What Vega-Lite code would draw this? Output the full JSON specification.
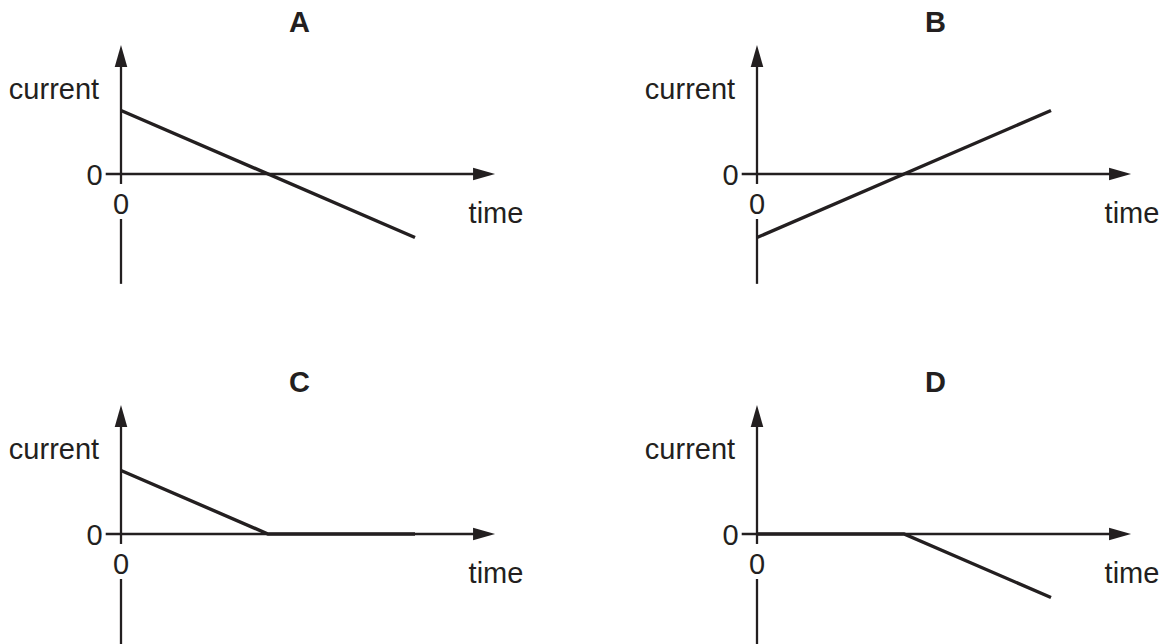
{
  "$schema": "https://vega.github.io/schema/vega-lite/v6.json",
  "padding": 0,
  "background": "white",
  "datasets": {
    "els": [
      {"panel":"A","el":"axis","t":-0.52,"t2":12.35,"i":0,"i2":0},
      {"panel":"A","el":"axis","t":0,"t2":0,"i":-0.157,"i2":1.858},
      {"panel":"A","el":"axis","t":0,"t2":0,"i":-1.73,"i2":-0.709},
      {"panel":"A","el":"arrow","dir":"up","t":0,"i":1.858},
      {"panel":"A","el":"arrow","dir":"right","t":12.35,"i":0},
      {"panel":"A","el":"label","text":"current","t":-2.28,"i":1.189},
      {"panel":"A","el":"label","text":"0","t":-0.9,"i":-0.18},
      {"panel":"A","el":"label","text":"0","t":0,"i":-0.63},
      {"panel":"A","el":"label","text":"time","t":12.755,"i":-0.764},
      {"panel":"A","el":"title","text":"A","t":6.07,"i":2.236},
      {"panel":"A","el":"curve","t":0,"i":1},
      {"panel":"A","el":"curve","t":10,"i":-1},

      {"panel":"B","el":"axis","t":-0.52,"t2":12.35,"i":0,"i2":0},
      {"panel":"B","el":"axis","t":0,"t2":0,"i":-0.157,"i2":1.858},
      {"panel":"B","el":"axis","t":0,"t2":0,"i":-1.73,"i2":-0.709},
      {"panel":"B","el":"arrow","dir":"up","t":0,"i":1.858},
      {"panel":"B","el":"arrow","dir":"right","t":12.35,"i":0},
      {"panel":"B","el":"label","text":"current","t":-2.28,"i":1.189},
      {"panel":"B","el":"label","text":"0","t":-0.9,"i":-0.18},
      {"panel":"B","el":"label","text":"0","t":0,"i":-0.63},
      {"panel":"B","el":"label","text":"time","t":12.755,"i":-0.764},
      {"panel":"B","el":"title","text":"B","t":6.07,"i":2.236},
      {"panel":"B","el":"curve","t":0,"i":-1},
      {"panel":"B","el":"curve","t":10,"i":1},

      {"panel":"C","el":"axis","t":-0.52,"t2":12.35,"i":0,"i2":0},
      {"panel":"C","el":"axis","t":0,"t2":0,"i":-0.157,"i2":1.858},
      {"panel":"C","el":"axis","t":0,"t2":0,"i":-1.748,"i2":-0.709},
      {"panel":"C","el":"arrow","dir":"up","t":0,"i":1.858},
      {"panel":"C","el":"arrow","dir":"right","t":12.35,"i":0},
      {"panel":"C","el":"label","text":"current","t":-2.28,"i":1.189},
      {"panel":"C","el":"label","text":"0","t":-0.9,"i":-0.18},
      {"panel":"C","el":"label","text":"0","t":0,"i":-0.63},
      {"panel":"C","el":"label","text":"time","t":12.755,"i":-0.764},
      {"panel":"C","el":"title","text":"C","t":6.07,"i":2.236},
      {"panel":"C","el":"curve","t":0,"i":1},
      {"panel":"C","el":"curve","t":5,"i":0},
      {"panel":"C","el":"curve","t":10,"i":0},

      {"panel":"D","el":"axis","t":-0.52,"t2":12.35,"i":0,"i2":0},
      {"panel":"D","el":"axis","t":0,"t2":0,"i":-0.157,"i2":1.858},
      {"panel":"D","el":"axis","t":0,"t2":0,"i":-1.748,"i2":-0.709},
      {"panel":"D","el":"arrow","dir":"up","t":0,"i":1.858},
      {"panel":"D","el":"arrow","dir":"right","t":12.35,"i":0},
      {"panel":"D","el":"label","text":"current","t":-2.28,"i":1.189},
      {"panel":"D","el":"label","text":"0","t":-0.9,"i":-0.18},
      {"panel":"D","el":"label","text":"0","t":0,"i":-0.63},
      {"panel":"D","el":"label","text":"time","t":12.755,"i":-0.764},
      {"panel":"D","el":"title","text":"D","t":6.07,"i":2.236},
      {"panel":"D","el":"curve","t":0,"i":0},
      {"panel":"D","el":"curve","t":5,"i":0},
      {"panel":"D","el":"curve","t":10,"i":-1}
    ]
  },
  "data": {"name": "els"},
  "spacing": 74,
  "vconcat": [
    {
      "spacing": 104,
      "hconcat": [
        {
          "width": 532, "height": 285,
          "transform": [{"filter": "datum.panel === 'A'"}],
          "encoding": {
            "x": {"field": "t", "type": "quantitative", "axis": null, "scale": {"domain": [-4.1156, 13.9796], "nice": false, "zero": false}},
            "y": {"field": "i", "type": "quantitative", "axis": null, "scale": {"domain": [-1.748, 2.7402], "nice": false, "zero": false}}
          },
          "layer": [
            {"transform": [{"filter": "datum.el === 'axis'"}], "mark": {"type": "rule", "color": "#231f20", "strokeWidth": 2.3}, "encoding": {"x2": {"field": "t2"}, "y2": {"field": "i2"}}},
            {"transform": [{"filter": "datum.el === 'arrow'"}], "mark": {"type": "point", "filled": true, "color": "#231f20", "opacity": 1, "size": 484, "strokeWidth": 0}, "encoding": {"shape": {"field": "dir", "type": "nominal", "legend": null, "scale": {"domain": ["up", "right"], "range": ["M0,-1L0.57,1L-0.57,1Z", "M1,0L-1,0.57L-1,-0.57Z"]}}}},
            {"transform": [{"filter": "datum.el === 'curve'"}], "mark": {"type": "line", "color": "#231f20", "strokeWidth": 3.4, "strokeCap": "butt"}, "encoding": {}},
            {"transform": [{"filter": "datum.el === 'label'"}], "mark": {"type": "text", "font": "Liberation Sans", "fontSize": 29, "color": "#231f20", "align": "center", "baseline": "alphabetic"}, "encoding": {"text": {"field": "text"}}},
            {"transform": [{"filter": "datum.el === 'title'"}], "mark": {"type": "text", "font": "Liberation Sans", "fontSize": 29, "fontWeight": "bold", "color": "#231f20", "align": "center", "baseline": "alphabetic"}, "encoding": {"text": {"field": "text"}}}
          ]
        },
        {
          "width": 532, "height": 285,
          "transform": [{"filter": "datum.panel === 'B'"}],
          "encoding": {
            "x": {"field": "t", "type": "quantitative", "axis": null, "scale": {"domain": [-4.1156, 13.9796], "nice": false, "zero": false}},
            "y": {"field": "i", "type": "quantitative", "axis": null, "scale": {"domain": [-1.748, 2.7402], "nice": false, "zero": false}}
          },
          "layer": [
            {"transform": [{"filter": "datum.el === 'axis'"}], "mark": {"type": "rule", "color": "#231f20", "strokeWidth": 2.3}, "encoding": {"x2": {"field": "t2"}, "y2": {"field": "i2"}}},
            {"transform": [{"filter": "datum.el === 'arrow'"}], "mark": {"type": "point", "filled": true, "color": "#231f20", "opacity": 1, "size": 484, "strokeWidth": 0}, "encoding": {"shape": {"field": "dir", "type": "nominal", "legend": null, "scale": {"domain": ["up", "right"], "range": ["M0,-1L0.57,1L-0.57,1Z", "M1,0L-1,0.57L-1,-0.57Z"]}}}},
            {"transform": [{"filter": "datum.el === 'curve'"}], "mark": {"type": "line", "color": "#231f20", "strokeWidth": 3.4, "strokeCap": "butt"}, "encoding": {}},
            {"transform": [{"filter": "datum.el === 'label'"}], "mark": {"type": "text", "font": "Liberation Sans", "fontSize": 29, "color": "#231f20", "align": "center", "baseline": "alphabetic"}, "encoding": {"text": {"field": "text"}}},
            {"transform": [{"filter": "datum.el === 'title'"}], "mark": {"type": "text", "font": "Liberation Sans", "fontSize": 29, "fontWeight": "bold", "color": "#231f20", "align": "center", "baseline": "alphabetic"}, "encoding": {"text": {"field": "text"}}}
          ]
        }
      ]
    },
    {
      "spacing": 104,
      "hconcat": [
        {
          "width": 532, "height": 285,
          "transform": [{"filter": "datum.panel === 'C'"}],
          "encoding": {
            "x": {"field": "t", "type": "quantitative", "axis": null, "scale": {"domain": [-4.1156, 13.9796], "nice": false, "zero": false}},
            "y": {"field": "i", "type": "quantitative", "axis": null, "scale": {"domain": [-1.748, 2.7402], "nice": false, "zero": false}}
          },
          "layer": [
            {"transform": [{"filter": "datum.el === 'axis'"}], "mark": {"type": "rule", "color": "#231f20", "strokeWidth": 2.3}, "encoding": {"x2": {"field": "t2"}, "y2": {"field": "i2"}}},
            {"transform": [{"filter": "datum.el === 'arrow'"}], "mark": {"type": "point", "filled": true, "color": "#231f20", "opacity": 1, "size": 484, "strokeWidth": 0}, "encoding": {"shape": {"field": "dir", "type": "nominal", "legend": null, "scale": {"domain": ["up", "right"], "range": ["M0,-1L0.57,1L-0.57,1Z", "M1,0L-1,0.57L-1,-0.57Z"]}}}},
            {"transform": [{"filter": "datum.el === 'curve'"}], "mark": {"type": "line", "color": "#231f20", "strokeWidth": 3.4, "strokeCap": "butt"}, "encoding": {}},
            {"transform": [{"filter": "datum.el === 'label'"}], "mark": {"type": "text", "font": "Liberation Sans", "fontSize": 29, "color": "#231f20", "align": "center", "baseline": "alphabetic"}, "encoding": {"text": {"field": "text"}}},
            {"transform": [{"filter": "datum.el === 'title'"}], "mark": {"type": "text", "font": "Liberation Sans", "fontSize": 29, "fontWeight": "bold", "color": "#231f20", "align": "center", "baseline": "alphabetic"}, "encoding": {"text": {"field": "text"}}}
          ]
        },
        {
          "width": 532, "height": 285,
          "transform": [{"filter": "datum.panel === 'D'"}],
          "encoding": {
            "x": {"field": "t", "type": "quantitative", "axis": null, "scale": {"domain": [-4.1156, 13.9796], "nice": false, "zero": false}},
            "y": {"field": "i", "type": "quantitative", "axis": null, "scale": {"domain": [-1.748, 2.7402], "nice": false, "zero": false}}
          },
          "layer": [
            {"transform": [{"filter": "datum.el === 'axis'"}], "mark": {"type": "rule", "color": "#231f20", "strokeWidth": 2.3}, "encoding": {"x2": {"field": "t2"}, "y2": {"field": "i2"}}},
            {"transform": [{"filter": "datum.el === 'arrow'"}], "mark": {"type": "point", "filled": true, "color": "#231f20", "opacity": 1, "size": 484, "strokeWidth": 0}, "encoding": {"shape": {"field": "dir", "type": "nominal", "legend": null, "scale": {"domain": ["up", "right"], "range": ["M0,-1L0.57,1L-0.57,1Z", "M1,0L-1,0.57L-1,-0.57Z"]}}}},
            {"transform": [{"filter": "datum.el === 'curve'"}], "mark": {"type": "line", "color": "#231f20", "strokeWidth": 3.4, "strokeCap": "butt"}, "encoding": {}},
            {"transform": [{"filter": "datum.el === 'label'"}], "mark": {"type": "text", "font": "Liberation Sans", "fontSize": 29, "color": "#231f20", "align": "center", "baseline": "alphabetic"}, "encoding": {"text": {"field": "text"}}},
            {"transform": [{"filter": "datum.el === 'title'"}], "mark": {"type": "text", "font": "Liberation Sans", "fontSize": 29, "fontWeight": "bold", "color": "#231f20", "align": "center", "baseline": "alphabetic"}, "encoding": {"text": {"field": "text"}}}
          ]
        }
      ]
    }
  ],
  "config": {"view": {"stroke": null}}
}
